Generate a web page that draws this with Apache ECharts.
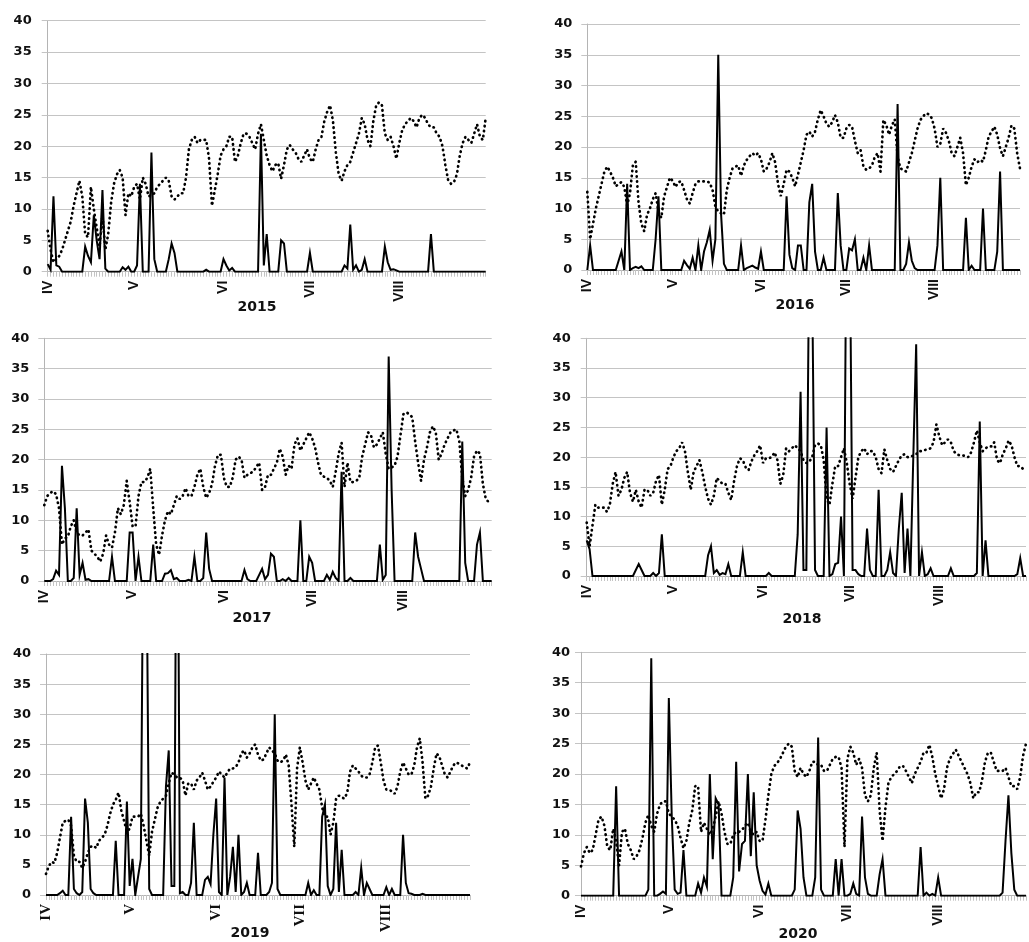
<!DOCTYPE html>
<html>
<head>
<meta charset="utf-8">
<style>html,body{margin:0;padding:0;background:#fff;}#c{width:1029px;height:942px;}</style>
<script src="https://cdn.jsdelivr.net/npm/echarts@6/dist/echarts.min.js"></script>
</head>
<body>
<div id="c"></div>
<script>
// ---- data ----
const years = ['2015','2016','2017','2018','2019','2020'];
const monthLabels = ['IV','V','VI','VII','VIII'];
const monthLengths = [30,31,30,31,31];
const yTicks = [0,5,10,15,20,25,30,35,40];

const p15 = [1.2,0.3,12,1,0.8,0,0,0,0,0,
0,0,0,4,2.5,1.5,9,5,2,13,
0.5,0,0,0,0,0,0.7,0.3,0.8,0,
0,1,14,0,0,0,19,2,0,0,
0,0,2,4.5,3,0,0,0,0,0,
0,0,0,0,0,0.3,0,0,0,0,
0,2,1,0.2,0.6,0,0,0,0,0,
0,0,0,0,22,1,6,0,0,0,
0,5,4.5,0,0,0,0,0,0,0,
0,3,0,0,0,0,0,0,0,0,
0,0,0,1,0.5,7.5,0.3,1,0,0.3,
2,0,0,0,0,0,0,4,1.5,0.3,
0.4,0.2,0,0,0,0,0,0,0,0,
0,0,0,6,0,0,0,0,0,0,
0,0,0,0,0,0,0,0,0,0,
0,0,0];
const t15 = [6.5,3.5,1.5,2,2.5,3.5,5,6.5,8,10.5,
12.5,14.5,12,6,5.5,13.5,10,7,4,9,
3.5,6,11,14,15.5,16.2,15,9,12.5,12,
13.5,14,11.5,15,14,12,12.2,12.5,13.5,14,
14.5,15,14.5,12,11.5,12,12.5,12.5,15,19.5,
21,21.5,20.5,21,21,21,18,10.5,13,15.5,
18.5,19.5,20,21.5,21.5,17.5,18.5,20.5,22,22,
21.5,20.5,19.5,22,23.5,21,18.5,17,16,17,
17.3,14.8,17,19.5,20.2,19.5,19,18,17.5,18.5,
19.5,18,17.5,19.5,21,21.5,24,25.5,26.5,24,
19,15.5,14.5,16,17,17.5,19,20.5,22,24.5,
23.5,21,20,24,26.5,27,26.5,22,21,21.5,
20,18,20.5,22.5,23.5,24,24.5,24,23,24.5,
25,24.5,23.5,23,23,22,21.5,20,17,14.5,
14,14.3,15.5,18.5,20.5,21.5,21,20.5,22,23.5,
21.5,21,24.5];

const p16 = [0,4,0,0,0,0,0,0,0,0,
0,1.5,3,0,14,0,0.3,0.5,0.3,0.6,
0,0,0,0,5,12,0,0,0,0,
0,0,0,0,1.5,0.8,0.2,2,0,4,
0,3,4.5,6.5,1.5,5,35,9,1,0,
0,0,0,0,4,0,0.3,0.5,0.7,0.4,
0.2,3,0,0,0,0,0,0,0,0,
12,2.5,0.3,0,4,4,0,0,11,14,
3,0,0,2,0,0,0,0,12.5,4,
0,0,3.5,3.2,5,0,0,2,0,4,
0,0,0,0,0,0,0,0,0,27,
0,0,1,4.5,1.5,0.3,0,0,0,0,
0,0,0,4,15,0,0,0,0,0,
0,0,0,8.5,0,0.7,0,0,0,10,
0,0,0,0,3,16,0,0,0,0,
0,0,0];
const t16 = [12.7,5,7.5,10,12,14,16,16.8,16,15,
13.6,14,14.3,13.5,10.5,12.5,17,17.6,11,7.5,
6.3,9,10,11.5,12.5,9.5,8.5,12,13.5,15,
14.5,13.5,14.3,14.4,13,11.5,10.8,12.5,14,14.4,
14.4,14.4,14.4,14.2,13,10.3,9.5,9.2,9,13,
15,16.5,16.8,17,15.3,17,17.9,18.5,19,18.6,
19,18,16,16.5,17.5,19,17.5,14,12,14,
16.3,16,15,13.6,15.5,17.5,19.5,22,22.5,21.7,
22.5,24.5,26,25,23.8,23.3,24,25.2,24,21.5,
21.5,23,23.6,23.3,21,19,19.5,16.8,16.3,16.5,
17,18.4,19,16,24.4,23.6,22,23.5,24.5,18.4,
16.5,16.3,16,17.5,19,21,23,24.4,25,25.5,
25.3,24.7,23,20,20.5,23,22.3,21,19,18.5,
20,21.5,19,13.8,15,16.8,18,17.5,17.9,17.6,
19.5,21.7,22.5,23.3,22,19.8,18.5,20,21.5,23.5,
23,19,16.5];

const p17 = [0,0,0,0.3,1.7,1,19,12,0,0,
0.5,12,1,3,0.2,0.3,0,0,0,0,
0,0,0,4,0,0,0,0,0,8,
8,0,4,0,0,0,0,6,0,0,
0,1.2,1.3,1.8,0.3,0.5,0,0,0,0.2,
0,4,0,0,0.5,8,2,0,0,0,
0,0,0,0,0,0,0,0,1.8,0.3,
0,0,0,1,2,0.3,1,4.5,4,0,
0,0.3,0,0.5,0,0,0,10,0,0,
4,3,0,0,0,0,1,0.2,1.5,0.5,
0,18,0,0,0.5,0,0,0,0,0,
0,0,0,0,6,0.2,1,37,15,0,
0,0,0,0,0,0,8,4,2,0,
0,0,0,0,0,0,0,0,0,0,
0,0,23,3,0,0,0,6,8,0,
0,0,0];
const t17 = [12.5,14,14.5,14.8,14.3,12,6,7,7.3,9,
10,8,7.5,7.5,8,8.5,5,4.5,4,3.2,
4.5,7.5,6,5.5,8,12,11,12.5,16.5,13,
9,9,14,16.3,16.3,17,18.5,12,6,4.3,
7.5,10,11.5,11,12.5,14,13.5,14,15.3,14,
14,15.5,17.5,18.5,15.5,13.7,14.5,16,19,20.8,
20.8,17,15.5,15.5,17,20,20.5,20,17,17.5,
17.8,18,18.8,19.5,15,15.5,17.5,17.5,18.5,19.5,
21.8,20.5,17.5,19,18.5,22.5,23.5,21.5,22.5,23.5,
24.5,23.5,22,19.5,17.5,17.2,17,16.5,15.5,18,
21,22.8,15.5,19.5,16.3,16.3,16.5,17,20.5,22.5,
24.5,24,22,22.5,23.5,24.5,21,18.5,18.7,19,
20.5,24,27.5,27.8,27.5,27,23,19.5,16.5,20,
22,24.5,25.5,24.5,20,21,22.5,23.5,24.5,24.8,
25,23,17,14,15,17,20.5,21.5,21,16,
13.5,13,12.8];

const p18 = [6,4.5,0,0,0,0,0,0,0,0,
0,0,0,0,0,0,0,1,2,1,
0,0,0,0.5,0,0.5,7,0,0,0,
0,0,0,0,0,0,0,0,0,0,
0,0,3.5,5,0.5,1,0.2,0.5,0.3,2,
0,0,0,0,4,0,0,0,0,0,
0,0,0,0.5,0,0,0,0,0,0,
0,0,0,7,31,1,1,55,50,1,
0,0,0,25,0,0.3,2,2.2,10,0,
70,60,1,1,0.3,0,0,8,1,0,
0,14.5,0,0,1,4,0.5,0,8,14,
0.5,8,0,20,39,0,4,0,0.3,1.3,
0,0,0,0,0,0,1.3,0,0,0,
0,0,0,0,0,0.5,26,0,6,0,
0,0,0,0,0,0,0,0,0,0.3,
3,0,0];
const t18 = [9,5,8.5,12,11.5,11.5,11.5,10.8,12,15.5,
17.5,13.5,14.5,16.5,17.5,14,12.5,14.5,12.5,11.5,
14.5,14.5,13.5,14,16,17,12,14.5,18,18.5,
20,21,21.5,22.5,21,17.5,14.5,17.5,18.5,19.5,
17.5,15,13,12,13.5,16.5,16,15.5,15.5,14,
12.8,16,18.5,19.8,19.5,18.3,17.8,19.3,20.3,21,
22,19,19.8,19.8,20,20.8,19.5,15.5,17,21.5,
21,21.5,22,21.5,21,19.5,19,19.2,20,22,
22.3,22,19.5,13,12,15.5,18.5,18.5,20,21.5,
19,15.5,13,16.5,20,21,21.5,20.5,21,21,
20,18,17.3,21.3,19.5,18,17.5,18.5,19.5,20.3,
20.5,20,20,20.3,20.5,21,21,21.2,21.3,21.5,
22.5,25.5,23.5,22,22.5,23,22.5,21,20.5,20.3,
20.3,20.2,20,20.8,22.5,24.5,22.5,21,21.5,21.8,
21.8,22.5,19.5,19,20.5,21.5,22.8,22,20,18.5,
18.5,18,18.3];

const p19 = [0,0,0,0,0,0.3,0.7,0,0,13,
1,0.3,0,0.5,16,12,1,0.3,0,0,
0,0,0,0,0,9,0,0,0,15.5,
1.5,6,0,3,6,70,60,1,0,0,
0,0,0,18,24,1.5,1.5,90,0.3,0.5,
0,0,2,12,0,0,0,2.5,3,1.8,
10,16,0.5,0,19.5,0,3,8,0.5,10,
0,0.5,2,0,0,0,7,0,0,0,
0.5,2,30,1,0,0,0,0,0,0,
0,0,0,0,2,0,0.8,0,0,13,
15,1.5,0,1,12,0.5,7.5,0,0,0,
0,0.5,0,4.5,0,2,1,0,0,0,
0,0,1.3,0,1,0,0,0,10,2,
0.3,0.2,0,0,0,0.2,0,0,0,0,
0,0,0,0,0,0,0,0,0,0,
0,0,0];
const t19 = [3.5,4.8,5.5,5.3,7,9.5,12,12.3,12.5,11.5,
6.5,5.5,5.5,4.5,5.5,7,8,8.2,7.8,9,
9.5,10,11.5,13.5,15,15.8,17,14,12.3,10.5,
11,13,13,13,13.5,11.5,9,6.5,10.5,12.5,
14.5,15.5,16,16.5,18.5,20.3,20,19.5,19.5,19,
16.5,18.5,18.5,17.5,19,19.5,20.3,19,17.5,18,
18.8,19.5,20.5,20,19.5,20.3,21,21,21.2,22,
23.5,24,22.8,23.5,24.5,25,23.3,22.3,22.5,23.5,
24.5,24,23.5,22.3,22,22.3,23.3,21.5,15,8,
21,24.5,22,19,17.5,18.5,19.5,18.5,17.5,14.5,
13,13,10,12,16,16.5,16.2,16,17,20.5,
21.5,21,20.5,19.8,19.5,19.5,20,22,24.5,24.8,
22,19,17.5,17.5,17.2,16.8,18,20.5,22,21,
20,20,21.5,24.5,26,22,16,16.5,18,21,
23.5,23,21.5,20,19.5,20.5,21.5,22,21.8,21.5,
21.2,21,22];

const p20 = [0,0,0,0,0,0,0,0,0,0,
0,0,18,0,0,0,0,0,0,0,
0,0,0,1,39,0,0,0.3,0.7,0.3,
32.5,13,1,0.3,0.5,7.5,0,0,0,0,
2,0.5,3,1.5,20,6,16,15,0,0,
0,0,3,22,4,8.5,9,20,6.5,17,
5,2.5,0.8,0.2,2,0,0,0,0,0,
0,0,0,1,14,11,3,0,0,0,
3,26,1,0,0,0,0,6,0,6,
0,0,0.3,2,0.3,0,13,3,0.3,0,
0,0,3.5,6,0,0,0,0,0,0,
0,0,0,0,0,0,8,0,0.5,0,
0.3,0,3,0,0,0,0,0,0,0,
0,0,0,0,0,0,0,0,0,0,
0,0,0,0,0.5,9,16.5,7,1,0,
0,0,0];
const t20 = [4.8,7,8,7,7.5,10,12.5,13,11.5,8,
7.5,11,9,5,10.5,11,8.5,7.5,6,6.5,
7.5,9.5,12,13.3,11.5,10.5,13.5,15,15.5,15.5,
13.5,13,12.5,11.5,9.5,7.8,9,12,14,18,
18,10.5,12,11,10,11,13,15.5,13.5,10.5,
8.5,8.5,10,10.5,10.5,10.8,11.5,12,10.5,10,
10.5,9,9,12.5,16.5,20,21.3,21.8,22.5,23.5,
24.5,25,24.5,20.5,19.5,21,20,19.5,20.5,22,
22,21.5,21.5,20.5,20.5,21.5,22.5,22.8,22.8,21,
8,22.5,24.5,23.5,21.5,22.5,21,16.5,15.5,16.5,
21,23.5,14,9,14.5,18.5,19.5,20,20.5,21.3,
21.3,20.5,19.5,18.5,20,21,22,23.5,23.5,24.8,
22.8,20,18,16,17.5,21,22.5,23.3,24,23,
22,21,20,18.5,16,17,17,19,22,23.5,
23.5,22,20.5,20.5,20.5,21,19.5,18,18,17.5,
19.5,23,25];

const precip = [p15,p16,p17,p18,p19,p20];
const temp = [t15,t16,t17,t18,t19,t20];

// ---- categories (day index within Apr–Aug) and month-start labels ----
const categories = [];
const monthStartLabel = {};
monthLengths.forEach((len, m) => {
  monthStartLabel[categories.length] = monthLabels[m];
  for (let i = 1; i <= len; i++) categories.push(monthLabels[m] + '-' + i);
});

// ---- layout (positions only) ----
const layout = [
  {left: 47.7, top: 20.7, width: 438, height: 251, yx: 257, yy: 307, lm: 16},
  {left: 587.3, top: 24, width: 432.7, height: 246, yx: 795, yy: 305, lm: 15},
  {left: 44.3, top: 338.3, width: 447.4, height: 242.7, yx: 252, yy: 618, lm: 15},
  {left: 586.7, top: 338.3, width: 439.3, height: 237.7, yx: 802, yy: 619, lm: 16},
  {left: 46, top: 654, width: 424, height: 241, yx: 250, yy: 933, lm: 15},
  {left: 581, top: 652.3, width: 445, height: 243.4, yx: 798, yy: 934, lm: 11}
];

const grid = [], xAxis = [], yAxis = [], series = [], graphic = [];
layout.forEach((L, i) => {
  grid.push({left: L.left, top: L.top, width: L.width, height: L.height, containLabel: false});
  const serif = years[i] === '2019';
  xAxis.push({
    type: 'category', gridIndex: i, data: categories, boundaryGap: false,
    axisLine: {show: true, lineStyle: {color: '#b4b4b4', width: 1}},
    axisTick: {show: true, interval: 0, length: 5, lineStyle: {color: '#c4c4c4', width: 1}},
    axisLabel: {
      interval: (idx) => monthStartLabel[idx] !== undefined,
      formatter: (v, idx) => monthStartLabel[idx] || '',
      rotate: 90, margin: 9, color: '#111',
      fontFamily: serif ? 'Liberation Serif' : 'Liberation Sans',
      fontWeight: 'bold', fontSize: serif ? 15 : 14
    },
    splitLine: {show: false}
  });
  yAxis.push({
    type: 'value', gridIndex: i, min: yTicks[0], max: yTicks[yTicks.length - 1], interval: 5,
    axisLine: {show: true, lineStyle: {color: '#b4b4b4', width: 1}},
    axisTick: {show: true, length: 6, lineStyle: {color: '#c4c4c4'}},
    axisLabel: {color: '#111', fontFamily: 'DejaVu Sans', fontWeight: 'bold', fontSize: 13, margin: L.lm},
    splitLine: {show: true, lineStyle: {color: '#c4c4c4', width: 1}}
  });
  series.push({
    type: 'line', xAxisIndex: i, yAxisIndex: i, data: temp[i], symbol: 'none',
    clip: true, z: 2,
    lineStyle: {color: '#000', width: 2.7, type: [0.4, 4.6], cap: 'round'}
  });
  series.push({
    type: 'line', xAxisIndex: i, yAxisIndex: i, data: precip[i], symbol: 'none',
    clip: true, z: 3,
    lineStyle: {color: '#000', width: 2, type: 'solid', join: 'miter'}
  });
  graphic.push({
    type: 'text', x: L.yx, y: L.yy,
    style: {text: years[i], fill: '#111', font: 'bold 14px "DejaVu Sans"', textAlign: 'center', textVerticalAlign: 'middle'}
  });
});

const chart = echarts.init(document.getElementById('c'), null, {renderer: 'canvas'});
chart.setOption({
  animation: false,
  backgroundColor: '#fff',
  grid, xAxis, yAxis, series, graphic
});
</script>
</body>
</html>
